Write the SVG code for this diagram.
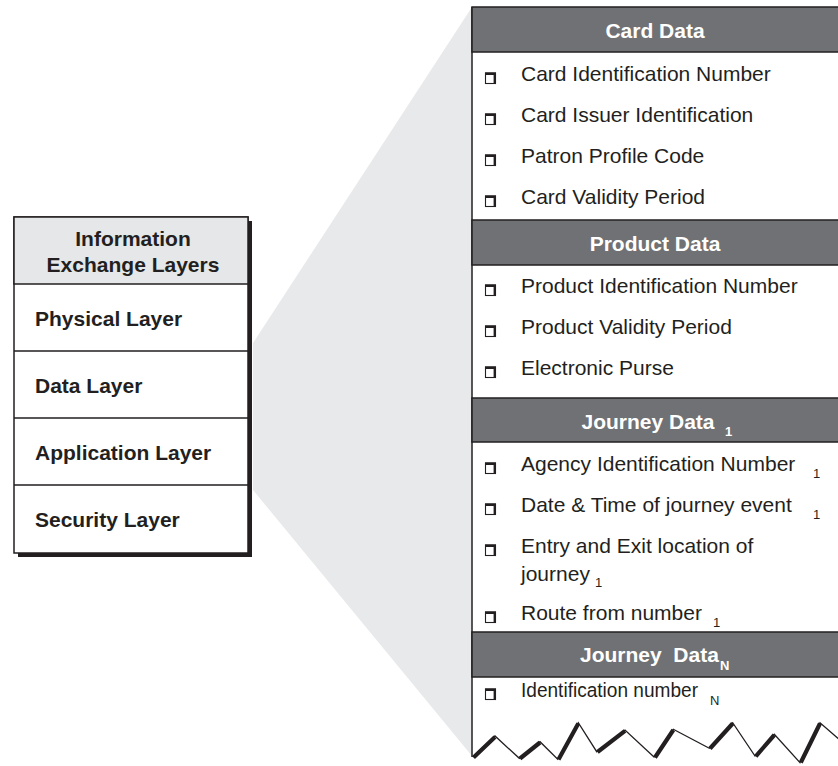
<svg xmlns="http://www.w3.org/2000/svg" width="838" height="766" viewBox="0 0 838 766">
<style>
text{font-family:"Liberation Sans",Arial,sans-serif;fill:#231f20}
.b{font-weight:bold;font-size:21px}
.hd{font-weight:bold;font-size:21px;fill:#ffffff;text-anchor:middle}
.it{font-size:21px}
.sub{font-size:13px}
.subw{font-size:13px;font-weight:bold;fill:#ffffff}
.line{stroke:#231f20;stroke-width:1.5;fill:none}
.hdr{fill:#707174;stroke:#231f20;stroke-width:1.5}
.cb{fill:#ffffff;stroke:#231f20;stroke-width:1.1}
.cbs{fill:none;stroke:#231f20;stroke-width:2.4}
</style>
<defs>
<g id="chk">
<rect class="cb" x="0.5" y="0.5" width="10" height="10.5"/>
<path class="cbs" d="M0,1.2 H9.8 V11"/>
</g>
</defs>
<rect width="838" height="766" fill="#ffffff"/>
<g id="connectors">
<polygon points="472,7 253,343 253,490 472,756" fill="#e8e9eb"/>
</g>
<g id="layers">
<rect x="18" y="221" width="234" height="336" fill="#231f20"/>
<rect x="14" y="217" width="234" height="336" fill="#ffffff" stroke="#231f20" stroke-width="1.5"/>
<rect x="14" y="217" width="234" height="67" fill="#e6e7e8" stroke="#231f20" stroke-width="1.5"/>
<path class="line" d="M14,351 H248 M14,418 H248 M14,485 H248"/>
<text class="b" x="133" y="246" text-anchor="middle">Information</text>
<text class="b" x="133" y="272" text-anchor="middle">Exchange Layers</text>
<text class="b" x="35" y="326">Physical Layer</text>
<text class="b" x="35" y="393">Data Layer</text>
<text class="b" x="35" y="460">Application Layer</text>
<text class="b" x="35" y="527">Security Layer</text>
</g>
<g id="panel">
<path d="M472,7 H840 V740 L820,722.7 L800,762.7 L774.3,734.3 L755,756 L732.7,722.7 L709.3,748.3 L673.3,729.3 L654,757 L625,730 L596.7,751.7 L578.3,722.7 L557.7,759.3 L540,741.7 L519.3,758.3 L495,736 L472.7,757 Z" fill="#ffffff"/>
<path class="line" d="M472,7 V757"/>
<polyline points="472.7,757 495,736 519.3,758.3 540,741.7 557.7,759.3 578.3,722.7 596.7,751.7 625,730 654,757 673.3,729.3 709.3,748.3 732.7,722.7 755,756 774.3,734.3 800,762.7 820,722.7 840,740" fill="none" stroke="#231f20" stroke-width="1.3" stroke-linejoin="miter"/>
<path d="M473.5,757.5 L495,737 M520,758.5 L540,742.5 M558.5,759.5 L578.3,723.5 M597.5,752 L625,730.8 M655,757.5 L673.3,730 M710,748.5 L732.7,723.5 M755.8,756.3 L774.3,735 M800.8,762.5 L820,723.5" fill="none" stroke="#231f20" stroke-width="4.2" stroke-linecap="butt"/>
</g>
<g id="card-data">
<rect class="hdr" x="472" y="7" width="370" height="45"/>
<text class="hd" x="655" y="38">Card Data</text>
<use href="#chk" x="485" y="72.5"/><text class="it" x="521" y="81">Card Identification Number</text>
<use href="#chk" x="485" y="113.5"/><text class="it" x="521" y="122">Card Issuer Identification</text>
<use href="#chk" x="485" y="154.5"/><text class="it" x="521" y="163">Patron Profile Code</text>
<use href="#chk" x="485" y="195.5"/><text class="it" x="521" y="204">Card Validity Period</text>
</g>
<g id="product-data">
<rect class="hdr" x="472" y="220" width="370" height="45"/>
<text class="hd" x="655" y="251">Product Data</text>
<use href="#chk" x="485" y="284.5"/><text class="it" x="521" y="293">Product Identification Number</text>
<use href="#chk" x="485" y="325.5"/><text class="it" x="521" y="334">Product Validity Period</text>
<use href="#chk" x="485" y="366.5"/><text class="it" x="521" y="375">Electronic Purse</text>
</g>
<g id="journey-data-1">
<rect class="hdr" x="472" y="398" width="370" height="44"/>
<text class="hd" x="648" y="429">Journey Data</text>
<text class="subw" x="725" y="436">1</text>
<use href="#chk" x="485" y="462.5"/><text class="it" x="521" y="471">Agency Identification Number</text>
<text class="sub" x="813" y="478">1</text>
<use href="#chk" x="485" y="503.5"/><text class="it" x="521" y="512">Date &amp; Time of journey event</text>
<text class="sub" x="813" y="519">1</text>
<use href="#chk" x="485" y="544.5"/><text class="it" x="521" y="553">Entry and Exit location of</text>
<text class="it" x="521" y="581">journey</text>
<text class="sub" x="595" y="587">1</text>
<use href="#chk" x="485" y="611.5"/><text class="it" x="521" y="620">Route from number</text>
<text class="sub" x="713" y="627">1</text>
</g>
<g id="journey-data-n">
<rect class="hdr" x="472" y="632" width="370" height="45"/>
<text x="580" y="662" style="font-weight:bold;font-size:21px;fill:#ffffff">Journey&#160; Data</text>
<text class="subw" x="720" y="670">N</text>
<use href="#chk" x="485" y="688.5"/><text x="521" y="697" style="font-size:20.5px" textLength="177" lengthAdjust="spacingAndGlyphs">Identification number</text>
<text class="sub" x="710" y="705">N</text>
</g>
</svg>
